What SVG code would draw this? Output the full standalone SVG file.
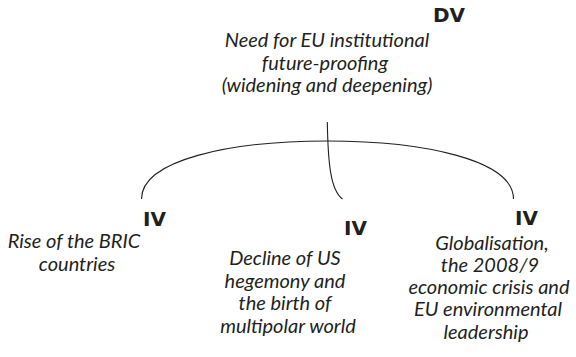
<svg xmlns="http://www.w3.org/2000/svg" width="576" height="357" viewBox="0 0 576 357">
<style>
.lab{font-family:Lato,"Liberation Sans",sans-serif;font-style:italic;font-weight:400;font-size:20px;fill:#231f20;text-anchor:middle}
.tag{font-family:"DejaVu Sans","Liberation Sans",sans-serif;font-weight:bold;font-size:20px;fill:#231f20}
.con{fill:none;stroke:#231f20;stroke-width:1.1}
</style>
<rect width="576" height="357" fill="#fff"/>
<g id="dv">
<text class="tag" x="433" y="22">DV</text>
<text class="lab" x="327" y="47">Need for EU institutional</text>
<text class="lab" x="325" y="70">future-proofing</text>
<text class="lab" x="327" y="92">(widening and deepening)</text>
</g>
<g id="iv1">
<text class="tag" x="143" y="226">IV</text>
<text class="lab" x="74" y="248">Rise of the BRIC</text>
<text class="lab" x="77" y="271">countries</text>
</g>
<g id="iv2">
<text class="tag" x="344" y="235">IV</text>
<text class="lab" x="285" y="265">Decline of US</text>
<text class="lab" x="285" y="288">hegemony and</text>
<text class="lab" x="285" y="310">the birth of</text>
<text class="lab" x="288" y="333">multipolar world</text>
</g>
<g id="iv3">
<text class="tag" x="515" y="225">IV</text>
<text class="lab" x="492" y="250">Globalisation,</text>
<text class="lab" x="490" y="272">the 2008/9</text>
<text class="lab" x="489" y="294">economic crisis and</text>
<text class="lab" x="488" y="316">EU environmental</text>
<text class="lab" x="486" y="339">leadership</text>
</g>
<g id="connectors">
<path class="con" d="M141.5,199 C141.5,160 230,141 327,141 S513.5,160 513.5,199"/>
<path class="con" d="M327.3,122 C328,160 330,190 342.5,199"/>
</g>
</svg>
